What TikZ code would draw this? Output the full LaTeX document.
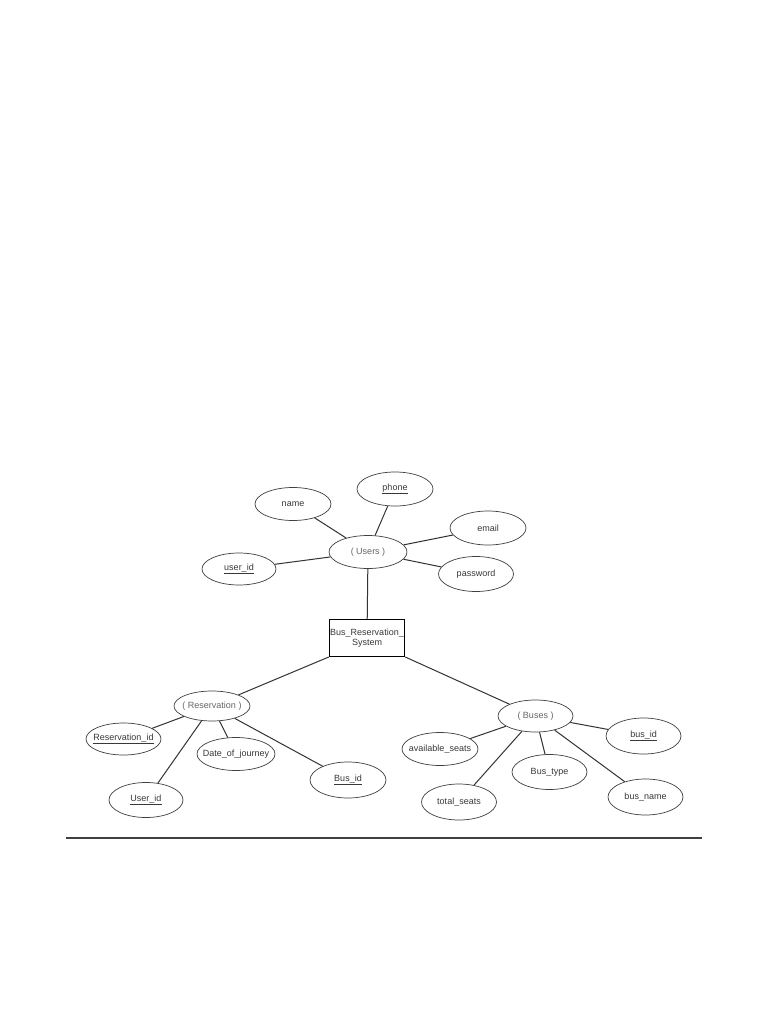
\documentclass[tikz,border=0pt]{standalone}
\usepackage{fontspec}
\setmainfont{Liberation Sans}
\usetikzlibrary{shapes.geometric}
\newcommand{\fitbox}[1]{\makebox[30pt]{#1}}
\begin{document}
\begin{tikzpicture}[x=1pt,y=-1pt,
  attr/.style={ellipse,draw=black!75,line width=0.7pt,minimum width=75pt,minimum height=33pt,inner sep=0pt,font=\fontsize{9}{10.5}\selectfont,text=black!78},
  ent/.style={attr,text=black!60},
  rel/.style={draw=black,line width=1pt,minimum width=74pt,minimum height=37pt,inner sep=1pt,align=center,font=\fontsize{9}{10.5}\selectfont,text=black!78},
  conn/.style={draw=black!80,line width=1pt}]
\useasboundingbox (0,0) rectangle (768,1024);
\fill[white] (0,0) rectangle (768,1024);
% main relationship box
\node[rel] (sys) at (367,638) {Bus\_Reservation\_\\System};
% Users
\node[ent,minimum width=78pt,minimum height=33pt] (users) at (368,552) {\fitbox{( Users )}};
\node[attr,minimum width=76pt,minimum height=33pt] (name) at (293,504) {\fitbox{name}};
\node[attr,minimum width=76pt,minimum height=34pt] (phone) at (395,489) {\fitbox{\underline{phone}}};
\node[attr,minimum width=76pt,minimum height=34pt] (email) at (488,528) {\fitbox{email}};
\node[attr,minimum width=74pt,minimum height=32pt] (userid) at (239,569) {\fitbox{\underline{user\_id}}};
\node[attr,minimum width=75pt,minimum height=35pt] (password) at (476,574) {\fitbox{password}};
% Reservation
\node[ent,minimum width=76pt,minimum height=30pt] (res) at (212,706) {\fitbox{( Reservation )}};
\node[attr,minimum width=75pt,minimum height=32pt] (resid) at (123.5,739) {\fitbox{\underline{Reservation\_id}}};
\node[attr,minimum width=78pt,minimum height=33pt] (date) at (236,754) {\fitbox{Date\_of\_journey}};
\node[attr,minimum width=76pt,minimum height=36pt] (busid1) at (348,780) {\fitbox{\underline{Bus\_id}}};
\node[attr,minimum width=74pt,minimum height=35pt] (uid) at (146,800) {\fitbox{\underline{User\_id}}};
% Buses
\node[ent,minimum width=75pt,minimum height=32pt] (buses) at (535.5,716) {\fitbox{( Buses )}};
\node[attr,minimum width=75pt,minimum height=36pt] (busid2) at (643.5,736) {\fitbox{\underline{bus\_id}}};
\node[attr,minimum width=76pt,minimum height=33pt] (avail) at (440,749) {\fitbox{available\_seats}};
\node[attr,minimum width=75pt,minimum height=35pt] (bustype) at (549.5,772) {\fitbox{Bus\_type}};
\node[attr,minimum width=75pt,minimum height=36pt] (total) at (459,802) {\fitbox{total\_seats}};
\node[attr,minimum width=75pt,minimum height=36pt] (busname) at (645.5,797) {\fitbox{bus\_name}};
% connectors
\draw[conn] (users) -- (sys);
\draw[conn] (users) -- (name);
\draw[conn] (users) -- (phone);
\draw[conn] (users) -- (email);
\draw[conn] (users) -- (userid);
\draw[conn] (users) -- (password);
\draw[conn] (sys.south west) -- (res);
\draw[conn] (sys.south east) -- (buses);
\draw[conn] (res) -- (resid);
\draw[conn] (res) -- (date);
\draw[conn] (res) -- (busid1);
\draw[conn] (res) -- (uid);
\draw[conn] (buses) -- (busid2);
\draw[conn] (buses) -- (avail);
\draw[conn] (buses) -- (bustype);
\draw[conn] (buses) -- (total);
\draw[conn] (buses) -- (busname);
% horizontal rule
\coordinate (hl) at (66,838);
\coordinate (hr) at (702,838);
\draw[black!75,line width=1.2pt] (hl) -- (hr);
\end{tikzpicture}
\end{document}
